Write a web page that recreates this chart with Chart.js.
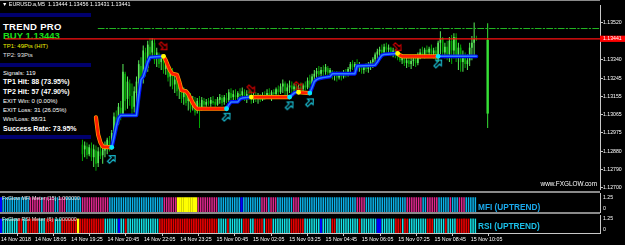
<!DOCTYPE html>
<html>
<head>
<meta charset="utf-8">
<title>EURUSD M5 - Trend Pro</title>
<script src="https://cdn.jsdelivr.net/npm/chart.js@4.4.1/dist/chart.umd.min.js"></script>
<style>
  html, body { margin: 0; padding: 0; background: #000; }
  #wrap { position: relative; width: 625px; height: 245px; overflow: hidden; background: #000;
          font-family: "Liberation Sans", Arial, sans-serif; color: #fff; }
  canvas { position: absolute; left: 0; z-index: 1; }
  .t { position: absolute; white-space: nowrap; line-height: 1; z-index: 2; }
  .p { position: absolute; white-space: nowrap; line-height: 1; z-index: 0; left: 3px; }
  .navy { position: absolute; left: 0; width: 91px; height: 4px; background: #00006e; z-index: 0; }
  .sep { position: absolute; left: 0; width: 600px; background: #8a8a8a; z-index: 3; }
  .b { font-weight: bold; }
</style>
</head>
<body>
<div id="wrap">
  <div class="sep" style="top:0;height:1px"></div>
  <div class="t" style="left:2px;top:2.4px;font-size:5.4px">▼ EURUSD.a,M5&nbsp; 1.13444 1.13456 1.13431 1.13441</div>

  <!-- signal panel (sits under the transparent chart canvas) -->
  <div class="navy" style="top:13px"></div>
  <div class="navy" style="top:63px"></div>
  <div class="navy" style="top:135px"></div>
  <div class="p b" style="top:22px;font-size:9.5px;letter-spacing:0.3px">TREND PRO</div>
  <div class="p b" style="top:30.7px;font-size:9.5px;color:#1be01b">BUY 1.13443</div>
  <div class="p" style="top:43.2px;font-size:6px;color:#f0f000">TP1: 49Pts (HIT)</div>
  <div class="p" style="top:52.4px;font-size:6px;color:#e0e0e0">TP2: 93Pts</div>
  <div class="p" style="top:69.9px;font-size:6px">Signals: 119</div>
  <div class="p b" style="top:78.4px;font-size:7px">TP1 Hit: 88 (73.95%)</div>
  <div class="p b" style="top:87.7px;font-size:7px">TP2 Hit: 57 (47.90%)</div>
  <div class="p" style="top:97.9px;font-size:6px">EXIT Win: 0 (0.00%)</div>
  <div class="p" style="top:107.1px;font-size:6px">EXIT Loss: 31 (26.05%)</div>
  <div class="p" style="top:116.2px;font-size:6px">Win/Loss: 88/31</div>
  <div class="p b" style="top:124.6px;font-size:7px">Success Rate: 73.95%</div>

  <canvas id="mainChart" width="625" height="194" style="top:0"></canvas>
  <canvas id="mfiChart" width="625" height="20" style="top:193px"></canvas>
  <canvas id="rsiChart" width="625" height="31" style="top:214px"></canvas>

  <div class="sep" style="top:191px;height:2px"></div>
  <div class="sep" style="top:212px;height:2px"></div>

  <div class="t" style="right:28px;top:181.1px;font-size:6.4px">www.FXGLOW.com</div>
  <div class="t" style="left:2px;top:196px;font-size:5.3px;color:#e4e4e4">FxGlow MFI Meter (15) 1.000000</div>
  <div class="t" style="left:2px;top:216.5px;font-size:5.3px;color:#e4e4e4">FxGlow RSI Meter (6) 1.000000</div>
  <div class="t b" style="left:478px;top:202.5px;font-size:8.3px;color:#1aa9ec">MFI (UPTREND)</div>
  <div class="t b" style="left:478px;top:222px;font-size:8.3px;color:#1ac0ea">RSI (UPTREND)</div>
</div>

<script>
Chart.defaults.font.family = '"Liberation Sans", Arial, sans-serif';
Chart.defaults.color = '#ffffff';

// EURUSD M5, bar 0 = 14 Nov 16:50; visible candles start at bar 34
const firstBar = 34;
const opens = [
  1.12915, 1.12891, 1.12905, 1.12867, 1.12896, 1.12852, 1.12886, 1.12823, 1.12881, 1.12862,
  1.12886, 1.12905, 1.12934, 1.12905, 1.12968, 1.13050, 1.13016, 1.13098, 1.13065, 1.13267,
  1.13142, 1.13219, 1.13156, 1.13103, 1.13171, 1.13219, 1.13306, 1.13248, 1.13373, 1.13296,
  1.13402, 1.13373, 1.13421, 1.13344, 1.13363, 1.13325, 1.13344, 1.13291, 1.13310, 1.13253,
  1.13267, 1.13214, 1.13233, 1.13190, 1.13204, 1.13151, 1.13171, 1.13132, 1.13151, 1.13103,
  1.13127, 1.13084, 1.13122, 1.13093, 1.13132, 1.13113, 1.13132, 1.13118, 1.13132, 1.13127,
  1.13113, 1.13137, 1.13146, 1.13127, 1.13146, 1.13137, 1.13171, 1.13151, 1.13161, 1.13151,
  1.13166, 1.13161, 1.13175, 1.13151, 1.13161, 1.13151, 1.13137, 1.13156, 1.13142, 1.13151,
  1.13137, 1.13161, 1.13146, 1.13171, 1.13156, 1.13175, 1.13166, 1.13190, 1.13175, 1.13204,
  1.13219, 1.13180, 1.13199, 1.13209, 1.13190, 1.13204, 1.13185, 1.13199, 1.13190, 1.13209,
  1.13199, 1.13233, 1.13219, 1.13253, 1.13267, 1.13281, 1.13267, 1.13286, 1.13277, 1.13296,
  1.13272, 1.13281, 1.13257, 1.13267, 1.13248, 1.13262, 1.13253, 1.13272, 1.13262, 1.13291,
  1.13315, 1.13301, 1.13315, 1.13296, 1.13310, 1.13286, 1.13301, 1.13291, 1.13310, 1.13325,
  1.13339, 1.13363, 1.13378, 1.13387, 1.13373, 1.13402, 1.13387, 1.13397, 1.13368, 1.13383,
  1.13359, 1.13349, 1.13334, 1.13344, 1.13320, 1.13334, 1.13315, 1.13330, 1.13339, 1.13320,
  1.13354, 1.13373, 1.13363, 1.13387, 1.13373, 1.13392, 1.13368, 1.13383, 1.13363, 1.13421,
  1.13445, 1.13373, 1.13402, 1.13363, 1.13431, 1.13383, 1.13450, 1.13349, 1.13397, 1.13325,
  1.13349, 1.13315, 1.13334, 1.13397, 1.13421, 1.13444
];
const highs = [
  1.12939, 1.12930, 1.12925, 1.12915, 1.12925, 1.12915, 1.12910, 1.12901, 1.12920, 1.12905,
  1.12930, 1.12949, 1.12958, 1.12987, 1.13074, 1.13084, 1.13122, 1.13132, 1.13315, 1.13277,
  1.13253, 1.13238, 1.13219, 1.13204, 1.13253, 1.13334, 1.13349, 1.13407, 1.13397, 1.13431,
  1.13445, 1.13445, 1.13440, 1.13397, 1.13373, 1.13363, 1.13349, 1.13334, 1.13325, 1.13301,
  1.13296, 1.13267, 1.13257, 1.13228, 1.13219, 1.13199, 1.13190, 1.13180, 1.13171, 1.13156,
  1.13151, 1.13146, 1.13156, 1.13151, 1.13146, 1.13142, 1.13146, 1.13151, 1.13156, 1.13142,
  1.13151, 1.13166, 1.13161, 1.13161, 1.13171, 1.13190, 1.13195, 1.13185, 1.13190, 1.13180,
  1.13195, 1.13199, 1.13190, 1.13185, 1.13190, 1.13180, 1.13171, 1.13175, 1.13171, 1.13166,
  1.13175, 1.13180, 1.13190, 1.13195, 1.13185, 1.13190, 1.13199, 1.13209, 1.13219, 1.13238,
  1.13228, 1.13219, 1.13233, 1.13228, 1.13219, 1.13219, 1.13214, 1.13224, 1.13219, 1.13228,
  1.13248, 1.13262, 1.13267, 1.13286, 1.13296, 1.13306, 1.13301, 1.13310, 1.13315, 1.13306,
  1.13296, 1.13286, 1.13277, 1.13281, 1.13277, 1.13277, 1.13286, 1.13291, 1.13301, 1.13325,
  1.13334, 1.13325, 1.13339, 1.13325, 1.13315, 1.13310, 1.13320, 1.13325, 1.13334, 1.13349,
  1.13373, 1.13392, 1.13402, 1.13412, 1.13416, 1.13421, 1.13412, 1.13402, 1.13397, 1.13392,
  1.13383, 1.13373, 1.13359, 1.13354, 1.13349, 1.13354, 1.13344, 1.13359, 1.13363, 1.13373,
  1.13392, 1.13402, 1.13397, 1.13407, 1.13402, 1.13412, 1.13397, 1.13402, 1.13431, 1.13479,
  1.13450, 1.13421, 1.13431, 1.13450, 1.13460, 1.13469, 1.13469, 1.13421, 1.13412, 1.13383,
  1.13373, 1.13363, 1.13421, 1.13455, 1.13522, 1.13456
];
const lows = [
  1.12833, 1.12852, 1.12843, 1.12857, 1.12833, 1.12804, 1.12785, 1.12804, 1.12843, 1.12819,
  1.12852, 1.12867, 1.12881, 1.12891, 1.12930, 1.12987, 1.13012, 1.13036, 1.13060, 1.13084,
  1.13093, 1.13108, 1.13060, 1.13074, 1.13108, 1.13156, 1.13204, 1.13219, 1.13253, 1.13277,
  1.13334, 1.13349, 1.13315, 1.13301, 1.13296, 1.13286, 1.13267, 1.13262, 1.13228, 1.13204,
  1.13190, 1.13171, 1.13156, 1.13142, 1.13122, 1.13113, 1.13108, 1.13084, 1.13074, 1.13084,
  1.13060, 1.13069, 1.12997, 1.13084, 1.13093, 1.13103, 1.13108, 1.13103, 1.13113, 1.13103,
  1.13108, 1.13118, 1.13108, 1.13113, 1.13122, 1.13127, 1.13132, 1.13122, 1.13137, 1.13127,
  1.13142, 1.13146, 1.13132, 1.13122, 1.13137, 1.13118, 1.13122, 1.13127, 1.13118, 1.13127,
  1.13132, 1.13137, 1.13142, 1.13146, 1.13132, 1.13151, 1.13156, 1.13161, 1.13166, 1.13171,
  1.13156, 1.13161, 1.13171, 1.13166, 1.13171, 1.13166, 1.13171, 1.13175, 1.13180, 1.13185,
  1.13190, 1.13195, 1.13209, 1.13228, 1.13243, 1.13248, 1.13243, 1.13257, 1.13262, 1.13253,
  1.13248, 1.13238, 1.13233, 1.13228, 1.13238, 1.13233, 1.13243, 1.13248, 1.13253, 1.13267,
  1.13286, 1.13277, 1.13286, 1.13277, 1.13267, 1.13267, 1.13277, 1.13272, 1.13286, 1.13296,
  1.13315, 1.13339, 1.13349, 1.13354, 1.13363, 1.13373, 1.13359, 1.13354, 1.13349, 1.13344,
  1.13334, 1.13325, 1.13315, 1.13306, 1.13296, 1.13301, 1.13291, 1.13306, 1.13301, 1.13310,
  1.13339, 1.13349, 1.13344, 1.13359, 1.13349, 1.13354, 1.13344, 1.13334, 1.13325, 1.13363,
  1.13349, 1.13344, 1.13334, 1.13325, 1.13315, 1.13344, 1.13325, 1.13286, 1.13277, 1.13277,
  1.13296, 1.13286, 1.13306, 1.13334, 1.13349, 1.13431
];
const closes = [
  1.12867, 1.12910, 1.12862, 1.12901, 1.12852, 1.12891, 1.12819, 1.12881, 1.12857, 1.12891,
  1.12910, 1.12939, 1.12901, 1.12973, 1.13055, 1.13012, 1.13103, 1.13060, 1.13277, 1.13132,
  1.13228, 1.13156, 1.13093, 1.13180, 1.13228, 1.13315, 1.13238, 1.13383, 1.13286, 1.13412,
  1.13363, 1.13431, 1.13334, 1.13373, 1.13315, 1.13349, 1.13286, 1.13315, 1.13248, 1.13277,
  1.13209, 1.13238, 1.13180, 1.13209, 1.13142, 1.13180, 1.13122, 1.13156, 1.13093, 1.13132,
  1.13074, 1.13132, 1.13084, 1.13137, 1.13113, 1.13127, 1.13118, 1.13137, 1.13122, 1.13113,
  1.13142, 1.13151, 1.13122, 1.13151, 1.13137, 1.13175, 1.13146, 1.13166, 1.13151, 1.13171,
  1.13156, 1.13180, 1.13146, 1.13166, 1.13151, 1.13137, 1.13156, 1.13142, 1.13151, 1.13137,
  1.13161, 1.13146, 1.13171, 1.13156, 1.13175, 1.13166, 1.13190, 1.13175, 1.13204, 1.13219,
  1.13180, 1.13199, 1.13209, 1.13190, 1.13204, 1.13185, 1.13199, 1.13190, 1.13209, 1.13199,
  1.13233, 1.13214, 1.13253, 1.13267, 1.13281, 1.13262, 1.13286, 1.13277, 1.13301, 1.13272,
  1.13286, 1.13257, 1.13267, 1.13248, 1.13262, 1.13253, 1.13272, 1.13262, 1.13291, 1.13315,
  1.13301, 1.13315, 1.13296, 1.13310, 1.13286, 1.13301, 1.13291, 1.13310, 1.13325, 1.13339,
  1.13363, 1.13378, 1.13387, 1.13373, 1.13402, 1.13387, 1.13397, 1.13368, 1.13383, 1.13359,
  1.13349, 1.13334, 1.13344, 1.13320, 1.13334, 1.13315, 1.13330, 1.13339, 1.13320, 1.13354,
  1.13373, 1.13363, 1.13387, 1.13373, 1.13392, 1.13368, 1.13383, 1.13363, 1.13421, 1.13445,
  1.13373, 1.13402, 1.13363, 1.13431, 1.13383, 1.13450, 1.13349, 1.13397, 1.13325, 1.13349,
  1.13315, 1.13334, 1.13397, 1.13421, 1.13440, 1.13441
];

// tall bar to the right of the last candle
const spikeBar = 214;
const spikeWick = [1.12997, 1.13518];
const spikeBody = [1.13069, 1.13436];

// Trend Pro line: vertices and direction of the segment that starts at each vertex
const trendBars = [40, 41, 42, 43, 47, 48, 49, 50, 51, 58, 59, 60, 61, 62, 63, 64,
  70, 71, 72, 73, 74, 76, 77, 78, 80, 81, 83, 84, 85, 98, 99, 100, 103, 104, 105,
  109, 126, 127, 128, 129, 130, 135, 136, 137, 138, 139, 141, 144, 145, 155, 156,
  164, 165, 166, 167, 168, 174, 175, 176, 192, 209];
const trendValues = [1.13050, 1.12963, 1.12925, 1.12905, 1.12901,
  1.12949, 1.13002, 1.13045, 1.13060, 1.13060, 1.13156, 1.13238, 1.13253, 1.13286, 1.13325, 1.13349,
  1.13354, 1.13334, 1.13306, 1.13281, 1.13267, 1.13262, 1.13228, 1.13185, 1.13180, 1.13166, 1.13122, 1.13103, 1.13093,
  1.13093, 1.13113, 1.13127, 1.13127, 1.13142, 1.13146,
  1.13151,
  1.13151, 1.13161, 1.13171, 1.13175,
  1.13175,
  1.13171, 1.13199, 1.13228, 1.13238, 1.13243, 1.13248, 1.13253, 1.13267, 1.13267, 1.13306,
  1.13310, 1.13325, 1.13344, 1.13359, 1.13363,
  1.13368, 1.13359, 1.13354,
  1.13354, 1.13354];
const trendDirs = ('dddd' + 'uuuuuuuuuuuu' + 'ddddddddddddd' + 'uuuuuu' + 'd' + 'uuuu' + 'd' +
  'uuuuuuuuuuuuuuu' + 'ddd' + 'uu').split('');

// signal arrows
const buyArrowBars = [47, 98, 126, 135, 192];
const buyArrowPrices = [1.12843, 1.13053, 1.13110, 1.13125, 1.13318];
const sellArrowBars = [70, 109, 130, 174];
const sellArrowPrices = [1.13404, 1.13190, 1.13207, 1.13400];

const bidPrice = 1.13441;
const tp1Price = 1.13492;
const tpLineStart = 41;

const priceTicks = [1.13520, 1.13340, 1.13245, 1.13155, 1.13065, 1.12975, 1.12880, 1.12790, 1.12700];
const timeTickBars = [0, 15, 31, 47, 63, 79, 95, 111, 127, 143, 159, 175, 191, 207];
const timeTickLabels = ['14 Nov 2018', '14 Nov 18:05', '14 Nov 19:25', '14 Nov 20:45', '14 Nov 22:05',
  '14 Nov 23:25', '15 Nov 00:45', '15 Nov 02:05', '15 Nov 03:25', '15 Nov 04:45', '15 Nov 06:05',
  '15 Nov 07:25', '15 Nov 08:45', '15 Nov 10:05'];

// meter colour per bar (bars 0..209)
// MFI: S sky blue, P pink, Y yellow, B blue
const mfiCodes = ('BSSSSSSSSS SSSPPPPPSP PPPPSSPPPS SSSSSSPPPP PPPPPPPPSS SSSSSSSSSS SSSSSSSSSS ' +
  'SSPPPPPPYY YYYYYYYPPP PPPPPPSSSS SSSSSSBSSS SSSSSPPPSP PPSSSSSSSP PPSSSSSSSS SSSSSSSSSS ' +
  'SSSSSSSPPP PSSSSSSSSS SSSSSSSSSP PPPPPPSSPP PPPSSSSSPS SSPPPSSSSS').replace(/ /g, '').split('');
// RSI: C cyan, R red, B blue, Y yellow
const rsiCodes = ('BCCCCCCCRR CCRRRRRCCC RRRRCCCRRR RRRRYRRRRR RRRRRRCCCC CCBCCRCCCC CCCCCCCCCC ' +
  'RRRRRRRRRR RRRRRRRRRR RRRRRRCCCC RCCCCCCRRR CCRRRRCRRR CCCCCCCCRR RRRRCCCCCC CBCCCCRRCC ' +
  'CCCCCCCCRC CCCCCCBBCC CCCCRRRCRR CCCCCCCCRR RCCCCCRCCC CRRRRRRCCC').replace(/ /g, '').split('');
const meterValue = 1;
const meterMax = 1.25;

// ---------------------------------------------------------------
const xMin = -0.4, xMax = 263.9;          // visible bar range
const priceMin = 1.12694, priceMax = 1.13609;
const axisGray = '#c8c8c8';
const bullColor = '#5aec5a', bearColor = '#00a800';

const candleColors = closes.map((c, k) => (c >= opens[k] ? bullColor : bearColor));
const wickData = lows.map((l, k) => ({ x: firstBar + k, y: [l, highs[k]] }));
const bodyData = opens.map((o, k) => ({ x: firstBar + k, y: [o, closes[k]] }));

function trendSeries(dir) {
  const pts = [];
  for (let k = 0; k < trendBars.length - 1; k++) {
    if (trendDirs[k] !== dir) continue;
    const last = pts[pts.length - 1];
    if (!last || last.x !== trendBars[k]) {
      if (last) pts.push({ x: (last.x + trendBars[k]) / 2, y: null });
      pts.push({ x: trendBars[k], y: trendValues[k] });
    }
    pts.push({ x: trendBars[k + 1], y: trendValues[k + 1] });
  }
  return pts;
}
const downPts = trendSeries('d');
const upPts = trendSeries('u');

const turnUp = [], turnDown = [];
for (let k = 1; k < trendBars.length; k++) {
  if (trendDirs[k] !== trendDirs[k - 1]) {
    (trendDirs[k] === 'u' ? turnUp : turnDown).push({ x: trendBars[k], y: trendValues[k] });
  }
}

function arrowIcon(color, angle) {
  const c = document.createElement('canvas');
  c.width = 12; c.height = 12;
  const g = c.getContext('2d');
  g.translate(6, 6);
  g.rotate(angle);
  g.beginPath();
  g.moveTo(0, -4.8);
  g.lineTo(3.9, -0.6);
  g.lineTo(1.4, -0.6);
  g.lineTo(1.4, 4.6);
  g.lineTo(-1.4, 4.6);
  g.lineTo(-1.4, -0.6);
  g.lineTo(-3.9, -0.6);
  g.closePath();
  g.strokeStyle = color;
  g.lineWidth = 1.1;
  g.stroke();
  return c;
}
const buyIcon = arrowIcon('#1cc6dc', Math.PI / 4);
const sellIcon = arrowIcon('#d40000', Math.PI * 3 / 4);

const lineBase = { type: 'line', pointRadius: 0, tension: 0, spanGaps: false,
  borderJoinStyle: 'round', borderCapStyle: 'round' };

new Chart(document.getElementById('mainChart'), {
  type: 'bar',
  data: {
    datasets: [
      { ...lineBase, data: [{ x: xMin, y: bidPrice }, { x: xMax, y: bidPrice }],
        borderColor: '#ff1010', borderWidth: 1.2, order: 0 },
      { type: 'line', showLine: false, data: buyArrowBars.map((b, k) => ({ x: b, y: buyArrowPrices[k] })),
        pointStyle: buyIcon, order: 1 },
      { type: 'line', showLine: false, data: sellArrowBars.map((b, k) => ({ x: b, y: sellArrowPrices[k] })),
        pointStyle: sellIcon, order: 1 },
      { type: 'line', showLine: false, data: turnUp, pointRadius: 2.4, pointBorderWidth: 0,
        pointBackgroundColor: '#00e8ff', order: 2 },
      { type: 'line', showLine: false, data: turnDown, pointRadius: 2.4, pointBorderWidth: 0,
        pointBackgroundColor: '#ffff00', order: 2 },
      { ...lineBase, data: downPts, borderColor: '#ff1c00', borderWidth: 2.8, order: 3 },
      { ...lineBase, data: upPts, borderColor: '#2c80ff', borderWidth: 1.5, order: 3 },
      { ...lineBase, data: downPts, borderColor: '#ffa000', borderWidth: 4.2, order: 4 },
      { ...lineBase, data: upPts, borderColor: '#0010f4', borderWidth: 3.8, order: 4 },
      { ...lineBase, data: [{ x: tpLineStart, y: tp1Price }, { x: xMax, y: tp1Price }],
        borderColor: '#22b822', borderWidth: 1, borderDash: [6, 2, 1.5, 2], order: 5 },
      { data: [{ x: spikeBar, y: spikeBody }], backgroundColor: '#36e036', barThickness: 2.4,
        grouped: false, inflateAmount: 0, order: 6 },
      { data: [{ x: spikeBar, y: spikeWick }], backgroundColor: '#36e036', barThickness: 1,
        grouped: false, inflateAmount: 0, order: 6 },
      { data: bodyData, backgroundColor: candleColors, barThickness: 1.6, grouped: false,
        inflateAmount: 0, order: 6 },
      { data: wickData, backgroundColor: candleColors, barThickness: 1, grouped: false,
        inflateAmount: 0, order: 7 }
    ]
  },
  options: {
    responsive: false, animation: false, devicePixelRatio: 1,
    layout: { padding: { top: 1, bottom: 3, left: 0, right: 0 } },
    plugins: { legend: { display: false }, tooltip: { enabled: false } },
    scales: {
      x: { type: 'linear', min: xMin, max: xMax, offset: false, display: false },
      y: {
        position: 'right', min: priceMin, max: priceMax,
        afterBuildTicks: s => {
          s.ticks = priceTicks.concat([bidPrice]).map(v => ({ value: v }));
        },
        afterFit: s => { s.width = 25; s.paddingTop = 0; s.paddingBottom = 0; },
        border: { color: axisGray, width: 1 },
        grid: { drawOnChartArea: false, drawTicks: true, tickLength: 3, color: axisGray },
        ticks: {
          autoSkip: false, padding: 0, color: '#ffffff', font: { size: 5.2 },
          callback: v => v.toFixed(5),
          showLabelBackdrop: ctx => !!ctx.tick && ctx.tick.value === bidPrice,
          backdropColor: '#ff0000',
          backdropPadding: { top: 0, bottom: 0, left: 3, right: 4 }
        }
      }
    }
  }
});

const meterLabels = {
  id: 'meterLabels',
  afterDraw(chart) {
    const y = chart.scales.y, ctx = chart.ctx;
    ctx.save();
    ctx.fillStyle = '#ffffff';
    ctx.font = '5.2px "Liberation Sans", Arial, sans-serif';
    ctx.textAlign = 'left';
    ctx.textBaseline = 'top';
    ctx.fillText('1.25', y.left + 3, y.getPixelForValue(meterMax) + 1);
    ctx.textBaseline = 'bottom';
    ctx.fillText('0', y.left + 3, y.getPixelForValue(0) - 1);
    ctx.restore();
  }
};

function meterChart(id, codes, palette, withTime) {
  const datasets = Object.keys(palette).map(code => ({
    data: codes.map((c, i) => (c === code ? { x: i, y: meterValue } : null)).filter(Boolean),
    backgroundColor: palette[code].color,
    barThickness: palette[code].width,
    grouped: false, inflateAmount: 0
  }));
  const x = withTime ? {
    type: 'linear', min: xMin, max: xMax, offset: false, position: 'bottom',
    afterBuildTicks: s => { s.ticks = timeTickBars.map(v => ({ value: v })); },
    afterFit: s => { s.height = 12; s.paddingLeft = 0; s.paddingRight = 0; },
    border: { color: axisGray },
    grid: { drawOnChartArea: false, drawTicks: true, tickLength: 3, color: axisGray },
    ticks: { autoSkip: false, maxRotation: 0, align: 'start', padding: 0, color: '#ffffff',
      font: { size: 5.3 }, callback: (v, i) => timeTickLabels[i] }
  } : { type: 'linear', min: xMin, max: xMax, offset: false, display: false };

  return new Chart(document.getElementById(id), {
    type: 'bar',
    data: { datasets },
    options: {
      responsive: false, animation: false, devicePixelRatio: 1,
      layout: { padding: withTime ? { top: 1, bottom: 0, left: 0, right: 0 }
                                  : { top: 0.5, bottom: 1, left: 0, right: 0 } },
      plugins: { legend: { display: false }, tooltip: { enabled: false } },
      scales: {
        x,
        y: {
          position: 'right', min: 0, max: meterMax,
          ticks: { display: false }, grid: { display: false },
          border: { color: axisGray },
          afterFit: s => { s.width = 25; s.paddingTop = 0; s.paddingBottom = 0; }
        }
      }
    },
    plugins: [meterLabels]
  });
}

meterChart('mfiChart', mfiCodes, {
  S: { color: '#0bb3ea', width: 1.5 },
  P: { color: '#e0288e', width: 1.5 },
  Y: { color: '#ffff00', width: 2.4 },
  B: { color: '#0000ff', width: 2.4 }
}, false);

meterChart('rsiChart', rsiCodes, {
  C: { color: '#14e4e8', width: 1.5 },
  R: { color: '#e60000', width: 1.7 },
  Y: { color: '#ffff00', width: 2.4 },
  B: { color: '#0000ff', width: 2.4 }
}, true);
</script>
</body>
</html>
